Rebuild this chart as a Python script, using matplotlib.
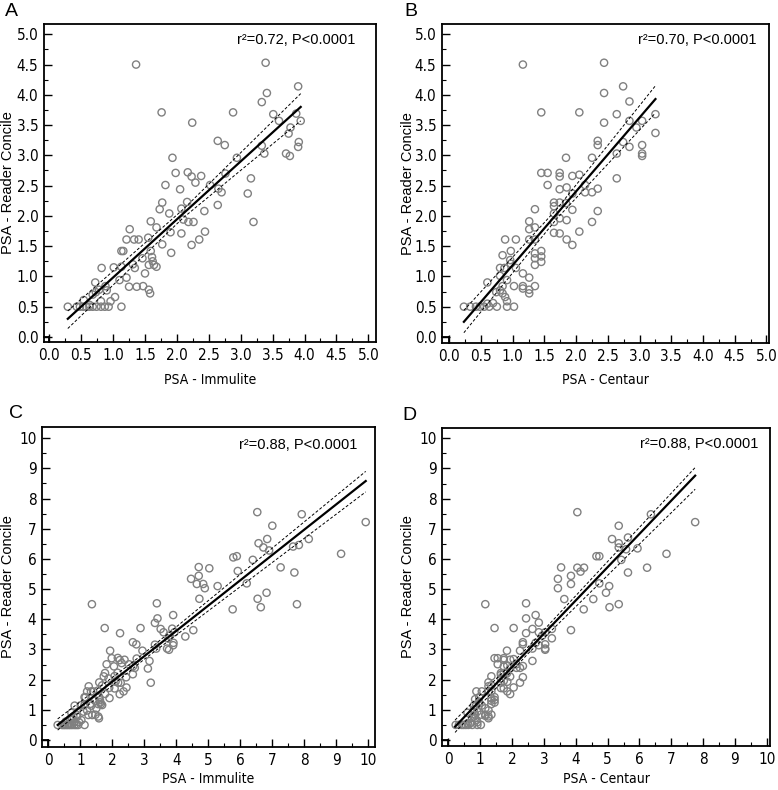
import numpy as np
import matplotlib
matplotlib.use("Agg")
import matplotlib.pyplot as plt
from matplotlib import font_manager as fm
from matplotlib.ticker import MultipleLocator, FormatStrFormatter

# panel A: PSA Immulite vs Reader Concile (low range)
immulite_lo = [1.36, 3.39, 3.90, 3.41, 3.33, 1.76, 2.88, 2.24, 3.51, 3.60, 3.87, 3.94, 3.78, 3.75,
               3.91, 3.90, 3.33, 3.37, 3.71, 3.77, 2.64, 2.75, 2.94, 1.93, 2.76, 1.98, 2.17, 2.23,
               2.38, 2.29, 1.82, 2.05, 2.52, 2.65, 2.70, 3.11, 3.16, 1.77, 1.73, 2.16, 2.07, 2.43,
               2.64, 1.88, 2.10, 2.18, 2.26, 3.20, 1.59, 1.68, 2.07, 2.44, 1.90, 1.26, 1.21, 1.33,
               1.40, 1.55, 1.77, 2.23, 2.35, 1.91, 1.13, 1.16, 1.59, 1.61, 1.62, 1.46, 1.56, 1.64,
               1.68, 1.31, 1.34, 1.13, 1.01, 0.82, 1.21, 1.10, 1.50, 0.72, 1.25, 1.37, 1.47, 1.56,
               1.58, 0.88, 0.90, 0.78, 0.73, 1.03, 0.96, 0.81, 0.68, 0.63, 0.54,
               0.29, 0.43, 0.48, 0.53, 0.58, 0.63, 0.68, 0.74, 0.81, 0.87, 0.93, 1.13]
reader_a = [4.50, 4.53, 4.14, 4.03, 3.88, 3.71, 3.71, 3.54, 3.68, 3.57, 3.69, 3.57, 3.46, 3.36,
            3.22, 3.14, 3.16, 3.03, 3.03, 2.99, 3.24, 3.17, 2.96, 2.96, 2.70, 2.71, 2.72, 2.65,
            2.66, 2.55, 2.51, 2.44, 2.51, 2.45, 2.39, 2.37, 2.62, 2.22, 2.11, 2.23, 2.12, 2.08,
            2.18, 2.04, 1.94, 1.90, 1.90, 1.90, 1.91, 1.81, 1.71, 1.74, 1.73, 1.78, 1.61, 1.61,
            1.61, 1.64, 1.53, 1.52, 1.61, 1.39, 1.42, 1.42, 1.42, 1.32, 1.25, 1.30, 1.19, 1.19,
            1.16, 1.20, 1.14, 1.16, 1.15, 1.14, 0.98, 0.94, 1.05, 0.90, 0.83, 0.83, 0.84, 0.78,
            0.72, 0.84, 0.77, 0.78, 0.74, 0.66, 0.59, 0.59, 0.70, 0.53, 0.61,
            0.50, 0.50, 0.50, 0.50, 0.50, 0.50, 0.50, 0.50, 0.50, 0.50, 0.50, 0.50]

# extra points shown only in panel C (high range)
immulite_hi = [9.92, 9.15, 6.53, 7.92, 7.00, 6.84, 6.57, 6.72, 6.90, 7.65, 7.83, 8.14, 6.39, 5.78,
               5.89, 5.92, 6.20, 7.26, 7.69, 5.03, 4.70, 4.70, 4.46, 4.64, 4.84, 4.89, 5.29, 4.72,
               6.54, 6.82, 6.64, 5.76, 7.77, 4.53, 4.28]
reader_c = [7.22, 6.17, 7.55, 7.48, 7.10, 6.66, 6.52, 6.38, 6.28, 6.41, 6.46, 6.66, 5.97, 6.05,
            6.09, 5.60, 5.19, 5.72, 5.55, 5.69, 5.73, 5.44, 5.34, 5.17, 5.17, 5.03, 5.10, 4.68,
            4.68, 4.88, 4.40, 4.33, 4.50, 3.64, 3.43]

# panel B: PSA Centaur vs Reader Concile (low range)
centaur_lo = [1.16, 2.44, 2.44, 2.74, 2.84, 1.45, 2.05, 2.44, 2.64, 3.25, 3.25, 3.04, 2.84, 2.95,
              2.34, 2.34, 2.74, 2.84, 3.04, 3.04, 3.04, 2.64, 2.25, 1.84, 2.64, 1.45, 1.55, 1.74,
              1.74, 1.94, 2.05, 1.55, 1.74, 1.85, 1.94, 2.14, 2.25, 2.34, 2.14, 1.65, 1.65, 1.74,
              1.84, 1.94, 2.34, 1.35, 1.65, 1.74, 1.85, 1.65, 2.25, 1.26, 1.26, 1.35, 1.65, 1.74,
              2.05, 1.85, 1.94, 0.88, 1.05, 1.26, 1.35, 0.97, 1.45, 1.35, 1.45, 1.35, 1.45, 1.35,
              0.84, 0.96, 0.80, 0.87, 1.05, 0.97, 1.16, 1.26, 0.80, 0.91, 1.02, 1.16, 1.16, 1.26,
              1.26, 1.35, 0.60, 0.84, 0.80, 0.74, 0.88, 0.91, 0.84, 0.69, 0.60,
              0.23, 0.33, 0.42, 0.48, 0.55, 0.63, 0.75, 0.91, 1.02]
reader_b = [4.50, 4.53, 4.03, 4.14, 3.89, 3.71, 3.71, 3.54, 3.68, 3.68, 3.37, 3.57, 3.57, 3.46,
            3.24, 3.17, 3.22, 3.14, 3.17, 3.03, 2.99, 3.03, 2.96, 2.96, 2.62, 2.71, 2.71, 2.71,
            2.65, 2.66, 2.68, 2.51, 2.44, 2.47, 2.37, 2.39, 2.39, 2.45, 2.51, 2.22, 2.16, 2.22,
            2.21, 2.10, 2.08, 2.11, 2.04, 1.96, 1.93, 1.90, 1.90, 1.91, 1.78, 1.81, 1.72, 1.71,
            1.74, 1.61, 1.52, 1.61, 1.61, 1.61, 1.61, 1.42, 1.42, 1.38, 1.33, 1.30, 1.24, 1.19,
            1.35, 1.27, 1.14, 1.14, 1.14, 1.21, 1.05, 0.98, 1.01, 0.94, 0.84, 0.84, 0.80, 0.78,
            0.72, 0.84, 0.90, 0.84, 0.77, 0.74, 0.66, 0.59, 0.72, 0.56, 0.55,
            0.50, 0.50, 0.50, 0.50, 0.50, 0.50, 0.50, 0.50, 0.50]

# extra points shown only in panel D
centaur_hi = [7.75, 6.85, 4.05, 6.36, 5.35, 5.14, 5.64, 5.35, 5.35, 5.58, 5.94, 5.43, 4.65, 4.74,
              5.64, 6.24, 4.74, 3.54, 4.05, 4.26, 4.15, 3.44, 3.85, 3.85, 3.44, 5.05, 4.95, 3.64,
              4.55, 5.06, 4.25, 5.35, 3.85]
reader_d = [7.22, 6.17, 7.55, 7.48, 7.10, 6.66, 6.71, 6.52, 6.38, 6.32, 6.35, 5.97, 6.09, 6.09,
            5.55, 5.71, 5.19, 5.72, 5.71, 5.71, 5.58, 5.34, 5.44, 5.17, 5.03, 5.10, 4.88, 4.67,
            4.67, 4.40, 4.33, 4.50, 3.64]

# regression line and 95% confidence band, read at start / middle / end
fit_x = {"A": [0.29, 2.10, 3.94], "B": [0.23, 1.70, 3.25],
         "C": [0.29, 3.00, 9.92], "D": [0.21, 2.50, 7.75]}
fit_y = {"A": [0.30, 2.04, 3.80], "B": [0.25, 2.04, 3.93],
         "C": [0.50, 2.78, 8.58], "D": [0.44, 2.97, 8.76]}
band_hi = {"A": [0.43, 2.11, 4.02], "B": [0.44, 2.12, 4.15],
           "C": [0.70, 2.88, 8.90], "D": [0.66, 3.08, 9.03]}
band_lo = {"A": [0.14, 1.97, 3.57], "B": [0.07, 1.96, 3.70],
           "C": [0.33, 2.68, 8.22], "D": [0.25, 2.86, 8.31]}

r2_text = {"A": "r²=0.72, P<0.0001", "B": "r²=0.70, P<0.0001",
           "C": "r²=0.88, P<0.0001", "D": "r²=0.88, P<0.0001"}
xlabels = {"A": "PSA - Immulite", "B": "PSA - Centaur", "C": "PSA - Immulite", "D": "PSA - Centaur"}

W, H = 778, 790
fig = plt.figure(figsize=(W / 100, H / 100), dpi=100)

# frame boxes in pixels: left, right, top, bottom
frames = {"A": (44, 376, 24, 342), "B": (442, 769, 24, 343),
          "C": (42, 375, 427, 747), "D": (442, 770, 428, 746)}
limits = {"A": ((-0.083, 5.12), (-0.083, 5.17)), "B": ((-0.115, 5.04), (-0.10, 5.17)),
          "C": ((-0.20, 10.21), (-0.23, 10.37)), "D": ((-0.20, 10.10), (-0.20, 10.34))}
# r2 text anchor (right, centre) and panel letter centres, pixels
r2_pos = {"A": (355, 40), "B": (757, 40), "C": (357, 445), "D": (758, 444)}
letter_pos = {"A": (11, 11), "B": (411, 11), "C": (16, 413), "D": (409, 415)}
ylab_x = {"A": 15, "B": 415, "C": 15, "D": 415}
xlab_top = {"A": 373, "B": 373, "C": 772, "D": 772}

data = {"A": (immulite_lo, reader_a),
        "B": (centaur_lo, reader_b),
        "C": (immulite_lo + immulite_hi, reader_a + reader_c),
        "D": (centaur_lo + centaur_hi, reader_b + reader_d)}

# look for a narrow sans font for the tick labels, else fall back
narrow = None
for f in fm.fontManager.ttflist:
    n = f.name + " " + f.fname
    if ("Narrow" in n or "Condensed" in n) and f.style == "normal" and f.weight in (400, "normal") \
            and "Mono" not in n and "Serif" not in n:
        narrow = f.fname
        break
sans = ["Liberation Sans", "DejaVu Sans"]
if narrow:
    tickprop = fm.FontProperties(fname=narrow, size=11)
    xlabprop = fm.FontProperties(fname=narrow, size=10)
else:
    tickprop = fm.FontProperties(family=sans, size=9.5)
    xlabprop = fm.FontProperties(family=sans, size=9)

for key in ["A", "B", "C", "D"]:
    l, r, t, b = frames[key]
    ax = fig.add_axes([l / W, 1 - b / H, (r - l) / W, (b - t) / H])
    (x0, x1), (y0, y1) = limits[key]

    xs, ys = data[key]
    ax.scatter(xs, ys, s=27, facecolors="none", edgecolors="#808080", linewidths=1.0, zorder=2)

    ax.plot(fit_x[key], fit_y[key], color="black", lw=1.6, zorder=3)
    ax.plot(fit_x[key], band_hi[key], color="black", lw=0.7, ls=(0, (3, 2)), zorder=3)
    ax.plot(fit_x[key], band_lo[key], color="black", lw=0.7, ls=(0, (3, 2)), zorder=3)

    # small corner square where the axes cross zero
    ax.plot([x0, 0], [0, 0], color="black", lw=1.3, clip_on=False)
    ax.plot([0, 0], [y0, 0], color="black", lw=1.3, clip_on=False)

    if key in ("A", "B"):
        top, minor, fmt = 5.0, 0.25, "%.1f"
    else:
        top, minor, fmt = 10.0, 0.5, "%d"
    ax.set_xticks(np.arange(0, top + 0.01, top / 10))
    ax.set_yticks(np.arange(0, top + 0.01, top / 10))
    ax.xaxis.set_minor_locator(MultipleLocator(minor))
    ax.yaxis.set_minor_locator(MultipleLocator(minor))
    ax.xaxis.set_major_formatter(FormatStrFormatter(fmt))
    ax.yaxis.set_major_formatter(FormatStrFormatter(fmt))
    ax.set_xlim(x0, x1)
    ax.set_ylim(y0, y1)

    ax.tick_params(which="major", direction="in", length=6, width=1.0, pad=4)
    ax.tick_params(which="minor", direction="in", length=3, width=0.8)
    for lab in ax.get_xticklabels() + ax.get_yticklabels():
        lab.set_fontproperties(tickprop)
    for s in ax.spines.values():
        s.set_linewidth(1.3)

    ax.set_xlabel(xlabels[key], fontproperties=xlabprop)
    ax.xaxis.set_label_coords(0.5, -(xlab_top[key] - b) / (b - t))
    ax.set_ylabel("PSA - Reader Concile", fontsize=10.5, family=sans)
    ax.yaxis.set_label_coords((ylab_x[key] - l) / (r - l), 0.5)

    rx, ry = r2_pos[key]
    fig.text(rx / W, 1 - ry / H, r2_text[key], ha="right", va="center", fontsize=10.5, family=sans)

    lx, ly = letter_pos[key]
    fig.text(lx / W, 1 - ly / H, key, fontsize=14, ha="center", va="center", family=sans)

fig.savefig("out.png", dpi=100)
